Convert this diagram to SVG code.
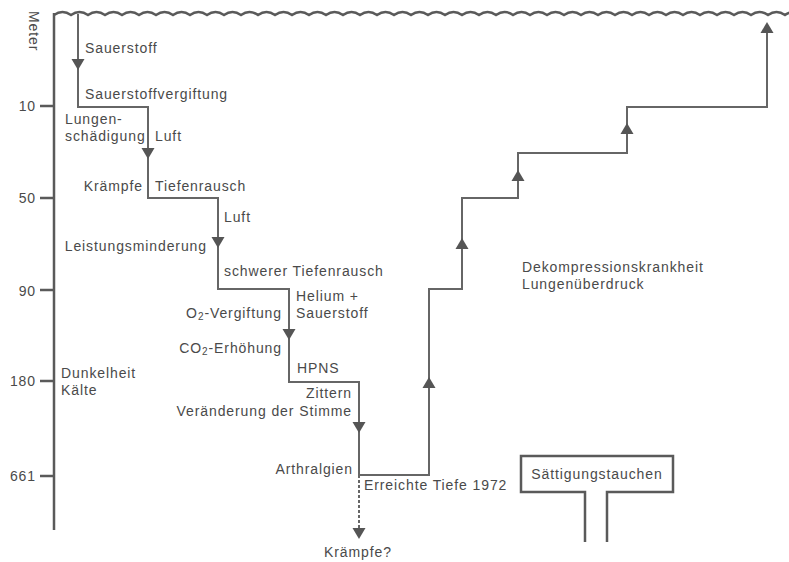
<svg xmlns="http://www.w3.org/2000/svg" width="789" height="562" viewBox="0 0 789 562">
<style>
text{font-family:"Liberation Sans",Arial,sans-serif;font-size:14px;fill:#4a4a4a;letter-spacing:0.9px}
.e{text-anchor:end}
.m{text-anchor:middle}
.ln{fill:none;stroke:#666;stroke-width:2}
.ax{fill:none;stroke:#5a5a5a;stroke-width:2.5}
.ar{fill:#555}
</style>
<defs>
<path id="dn" d="M-6.5,-11 L6.5,-11 L0,0 Z"/>
<path id="up" d="M-6.5,11 L6.5,11 L0,0 Z"/>
</defs>
<rect width="789" height="562" fill="#fff"/>
<g id="surface">
<path class="ax" d="M54,15 q8.5,-6 17,0 q8.5,-6 17,0 q8.5,-6 17,0 q8.5,-6 17,0 q8.5,-6 17,0 q8.5,-6 17,0 q8.5,-6 17,0 q8.5,-6 17,0 q8.5,-6 17,0 q8.5,-6 17,0 q8.5,-6 17,0 q8.5,-6 17,0 q8.5,-6 17,0 q8.5,-6 17,0 q8.5,-6 17,0 q8.5,-6 17,0 q8.5,-6 17,0 q8.5,-6 17,0 q8.5,-6 17,0 q8.5,-6 17,0 q8.5,-6 17,0 q8.5,-6 17,0 q8.5,-6 17,0 q8.5,-6 17,0 q8.5,-6 17,0 q8.5,-6 17,0 q8.5,-6 17,0 q8.5,-6 17,0 q8.5,-6 17,0 q8.5,-6 17,0 q8.5,-6 17,0 q8.5,-6 17,0 q8.5,-6 17,0 q8.5,-6 17,0 q8.5,-6 17,0 q8.5,-6 17,0 q8.5,-6 17,0 q8.5,-6 17,0 q8.5,-6 17,0 q8.5,-6 17,0 q8.5,-6 17,0 q8.5,-6 17,0 q8.5,-6 17,0 q8.5,-6 17,0"/>
</g>
<g id="axis">
<path class="ax" d="M54,13 V530 M40,106 H54 M40,198 H54 M40,290 H54 M40,381 H54 M40,476 H54"/>
<text x="29" y="11" transform="rotate(90 29 11)" font-size="15" letter-spacing="1">Meter</text>
<text class="e" x="36" y="111">10</text>
<text class="e" x="36" y="203">50</text>
<text class="e" x="36" y="296">90</text>
<text class="e" x="36" y="386">180</text>
<text class="e" x="36" y="481">661</text>
</g>
<g id="connectors">
<path class="ln" d="M78,14 V107 H148 V198 H218 V289 H289 V382 H359 V475 H429 V289 H462 V198 H518 V153 H627 V107 H767 V24"/>
<path class="ln" d="M359,475 V530" stroke-dasharray="3,2" stroke-width="1.5"/>
<g class="ar">
<use href="#dn" x="78" y="70"/>
<use href="#dn" x="148" y="159"/>
<use href="#dn" x="218" y="248"/>
<use href="#dn" x="289" y="340"/>
<use href="#dn" x="359" y="433"/>
<use href="#dn" x="359" y="539"/>
<use href="#up" x="429" y="377"/>
<use href="#up" x="462" y="238"/>
<use href="#up" x="518" y="170"/>
<use href="#up" x="627" y="123"/>
<use href="#up" x="767" y="22"/>
</g>
</g>
<g id="labels-descent">
<text x="85" y="53">Sauerstoff</text>
<text x="85" y="99">Sauerstoffvergiftung</text>
<text x="65" y="124">Lungen-</text>
<text x="65" y="141">schädigung</text>
<text x="155" y="141">Luft</text>
<text class="e" x="143" y="191">Krämpfe</text>
<text x="155" y="191">Tiefenrausch</text>
<text x="224" y="222">Luft</text>
<text class="e" x="207" y="251">Leistungsminderung</text>
<text x="224" y="276">schwerer Tiefenrausch</text>
<text x="296" y="301">Helium +</text>
<text x="296" y="318">Sauerstoff</text>
<text class="e" x="282" y="318">O<tspan font-size="10" dy="2">2</tspan><tspan dy="-2">-Vergiftung</tspan></text>
<text class="e" x="282" y="353">CO<tspan font-size="10" dy="2">2</tspan><tspan dy="-2">-Erhöhung</tspan></text>
<text x="297" y="373">HPNS</text>
<text class="e" x="352" y="398">Zittern</text>
<text class="e" x="352" y="416">Veränderung der Stimme</text>
<text class="e" x="353" y="474">Arthralgien</text>
<text x="364" y="490">Erreichte Tiefe 1972</text>
<text class="m" x="358" y="557">Krämpfe?</text>
</g>
<g id="labels-other">
<text x="61" y="378">Dunkelheit</text>
<text x="61" y="395">Kälte</text>
<text x="522" y="272">Dekompressionskrankheit</text>
<text x="522" y="289">Lungenüberdruck</text>
</g>
<g id="saettigung">
<path class="ax" d="M585,542 V492 H521 V456 H673 V492 H607 V542"/>
<text class="m" x="597" y="479">Sättigungstauchen</text>
</g>
</svg>
